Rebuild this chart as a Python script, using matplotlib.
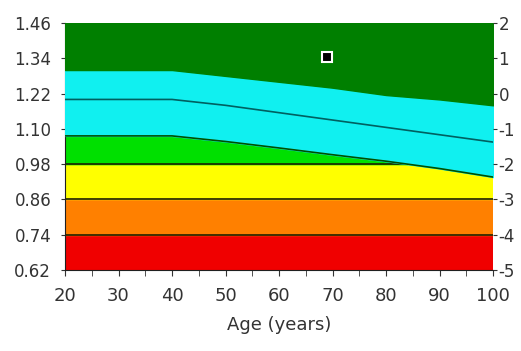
import numpy as np
import matplotlib.pyplot as plt

plt.rcParams['axes.unicode_minus'] = False

# reference curves (BMD, g/cm2) by age
ages = [20, 30, 40, 50, 60, 70, 80, 90, 100]
upper = [1.30, 1.30, 1.30, 1.28, 1.26, 1.24, 1.215, 1.20, 1.18]
middle = [1.20, 1.20, 1.20, 1.18, 1.155, 1.13, 1.105, 1.08, 1.055]
lower = [1.076, 1.076, 1.076, 1.057, 1.035, 1.012, 0.99, 0.965, 0.936]

# fixed t-score bands
bands = [0.62, 0.74, 0.86, 0.98]
band_colors = ['#f00000', '#ff8000', '#ffff00']

left_ticks = [0.62, 0.74, 0.86, 0.98, 1.10, 1.22, 1.34, 1.46]
right_ticks = [2, 1, 0, -1, -2, -3, -4, -5]
x_ticks = [20, 30, 40, 50, 60, 70, 80, 90, 100]

patient_age = [69]
patient_bmd = [1.344]

ymin, ymax = 0.62, 1.46
a = np.array(ages)
lo = np.array(lower)

fig = plt.figure(figsize=(5.21, 3.51), dpi=100)
ax = fig.add_axes([0.1248, 0.2308, 0.8215, 0.7037])

for i, c in enumerate(band_colors):
    ax.axhspan(bands[i], bands[i + 1], color=c, zorder=1)
ax.fill_between(a, 0.98, lo, where=lo >= 0.98, interpolate=True, color='#00e000', zorder=1)
ax.fill_between(a, lower, upper, color='#10f0f0', zorder=3)
ax.fill_between(a, upper, ymax, color='#007f00', zorder=3)

for b in bands[1:]:
    ax.axhline(b, color='#202000', lw=1.2, zorder=2)
ax.plot(ages, middle, color='#006060', lw=1.2, zorder=4)
ax.plot(ages, lower, color='#005000', lw=1.2, zorder=4)

ax.plot(patient_age, patient_bmd, 's', ms=7, mfc='black', mec='white', mew=1.5, zorder=5)

ax.set_xlim(20, 100)
ax.set_ylim(ymin, ymax)
ax.set_xticks(x_ticks)
ax.set_xticks(range(25, 100, 10), minor=True)
ax.set_yticks(left_ticks)
ax.set_yticklabels(['%.2f' % v for v in left_ticks])
ax.tick_params(axis='x', labelsize=13, colors='#333333', length=4, pad=8)
ax.tick_params(axis='x', which='minor', length=4, color='#333333')
ax.tick_params(axis='y', labelsize=12, colors='#333333', length=3, pad=7)
ax.set_xlabel('Age (years)', fontsize=13, color='#333333', labelpad=8)

ax2 = ax.twinx()
ax2.set_ylim(-5, 2)
ax2.set_yticks(right_ticks)
ax2.tick_params(axis='y', labelsize=12, colors='#333333', length=3, pad=1)

for s in ['top', 'right']:
    ax.spines[s].set_visible(False)
    ax2.spines[s].set_visible(False)
ax2.spines['left'].set_visible(False)
ax2.spines['bottom'].set_visible(False)
ax.spines['left'].set_color('#202020')
ax.spines['bottom'].set_color('#202020')

fig.savefig('out.png', dpi=100)
